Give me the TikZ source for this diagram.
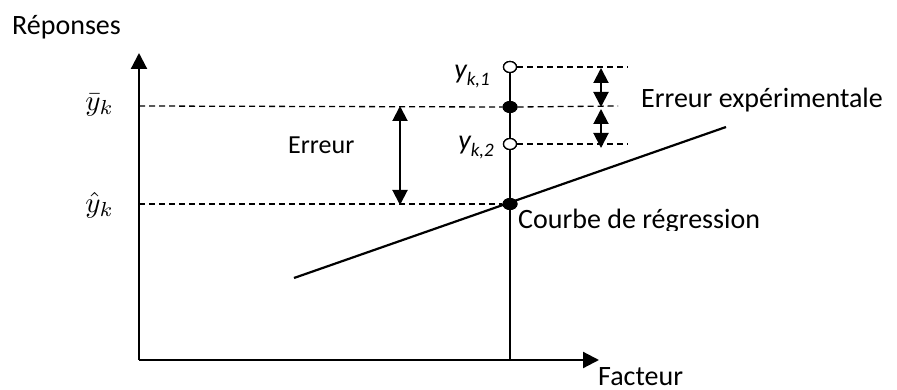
\documentclass[tikz,border=0pt]{standalone}
\usepackage{fontspec}
\setmainfont{Carlito}
\usetikzlibrary{arrows.meta,shapes.geometric}
\tikzset{
  axis/.style={line width=2.2pt,-{Triangle[length=16pt,width=16pt]}},
  dbl/.style={line width=2pt,{Triangle[length=15pt,width=15pt]}-{Triangle[length=15pt,width=15pt]}},
  guide/.style={line width=1.3pt,dash pattern=on 6pt off 4pt},
  opendot/.style={ellipse,draw,line width=1.3pt,fill=white,minimum width=13pt,minimum height=11pt,inner sep=0pt},
  fulldot/.style={ellipse,fill=black,minimum width=15pt,minimum height=12pt,inner sep=0pt},
  lbl/.style={inner sep=0pt,font=\fontsize{28}{32}\selectfont},
  mlbl/.style={inner sep=0pt},
  ilbl/.style={inner sep=0pt,font=\fontsize{28}{30}\selectfont\itshape},
}
\begin{document}
\begin{tikzpicture}[x=1pt,y=-1pt]
\useasboundingbox (0,0) rectangle (897,390);
% axes
\coordinate (O) at (139,360);
\coordinate (ytip) at (139,53);
\coordinate (xtip) at (599,360);
\draw[axis] (O) -- (ytip);
\draw[axis] (O) -- (xtip);
% points on vertical line
\coordinate (vbot) at (510,360);
\node[fulldot] (yhat) at (510,204) {};
\node[fulldot] (ybar) at (510,107) {};
\node[opendot] (y1) at (510,67) {};
\node[opendot] (y2) at (510,144) {};
% regression line
\coordinate (rA) at (294,278);
\coordinate (rB) at (726,127);
\draw[line width=2.2pt] (rA) -- (rB);
% vertical line
\draw[line width=1.4pt] (vbot) -- (y1.south);
% guides
\coordinate (ybarAx) at (139,106);
\coordinate (ybarEnd) at (618,106);
\coordinate (yhatAx) at (139,204);
\coordinate (y1End) at (628,67);
\coordinate (y2End) at (628,144);
\draw[guide] (ybarAx) -- (ybar.west);
\draw[guide] (ybar.east) -- (ybarEnd);
\draw[guide] (yhatAx) -- (yhat.west);
\draw[guide] (y1.east) -- (y1End);
\draw[guide] (y2.east) -- (y2End);
% redraw dots on top
\node[fulldot] at (yhat) {};
\node[fulldot] at (ybar) {};
\node[opendot] at (y1) {};
\node[opendot] at (y2) {};
% double arrows
\coordinate (eA) at (400,106);
\coordinate (eB) at (400,205);
\draw[dbl] (eA) -- (eB);
\coordinate (xa1) at (601,68);
\coordinate (xa2) at (601,107);
\coordinate (xa3) at (601,109);
\coordinate (xa4) at (601,148);
\draw[dbl] (xa1) -- (xa2);
\draw[dbl] (xa3) -- (xa4);
% labels
\node[lbl,anchor=base west] (rep) at (12,35) {Réponses};
\node[lbl,anchor=base west] (fac) at (598,385) {Facteur};
\node[lbl,anchor=base west,font=\fontsize{26}{30}\selectfont] (err) at (288,154) {Erreur};
\node[lbl,anchor=base west] (errexp) at (641,108) {Erreur expérimentale};
\begin{scope}
\clip (500,180) rectangle (897,231);
\node[lbl,anchor=base west] (courbe) at (518,229) {Courbe de régression};
\end{scope}
\node[mlbl,anchor=east] (lybar) at (114,105) {\scalebox{2.9}{$\bar{y}_k$}};
\node[mlbl,anchor=east] (lyhat) at (114,205) {\scalebox{2.9}{$\hat{y}_k$}};
\node[ilbl,anchor=base east] (ly1) at (490,79) {y\raisebox{-0.22em}{\fontsize{19}{21}\selectfont k,1}};
\node[ilbl,anchor=base east] (ly2) at (494,150) {y\raisebox{-0.22em}{\fontsize{19}{21}\selectfont k,2}};
\end{tikzpicture}
\end{document}
